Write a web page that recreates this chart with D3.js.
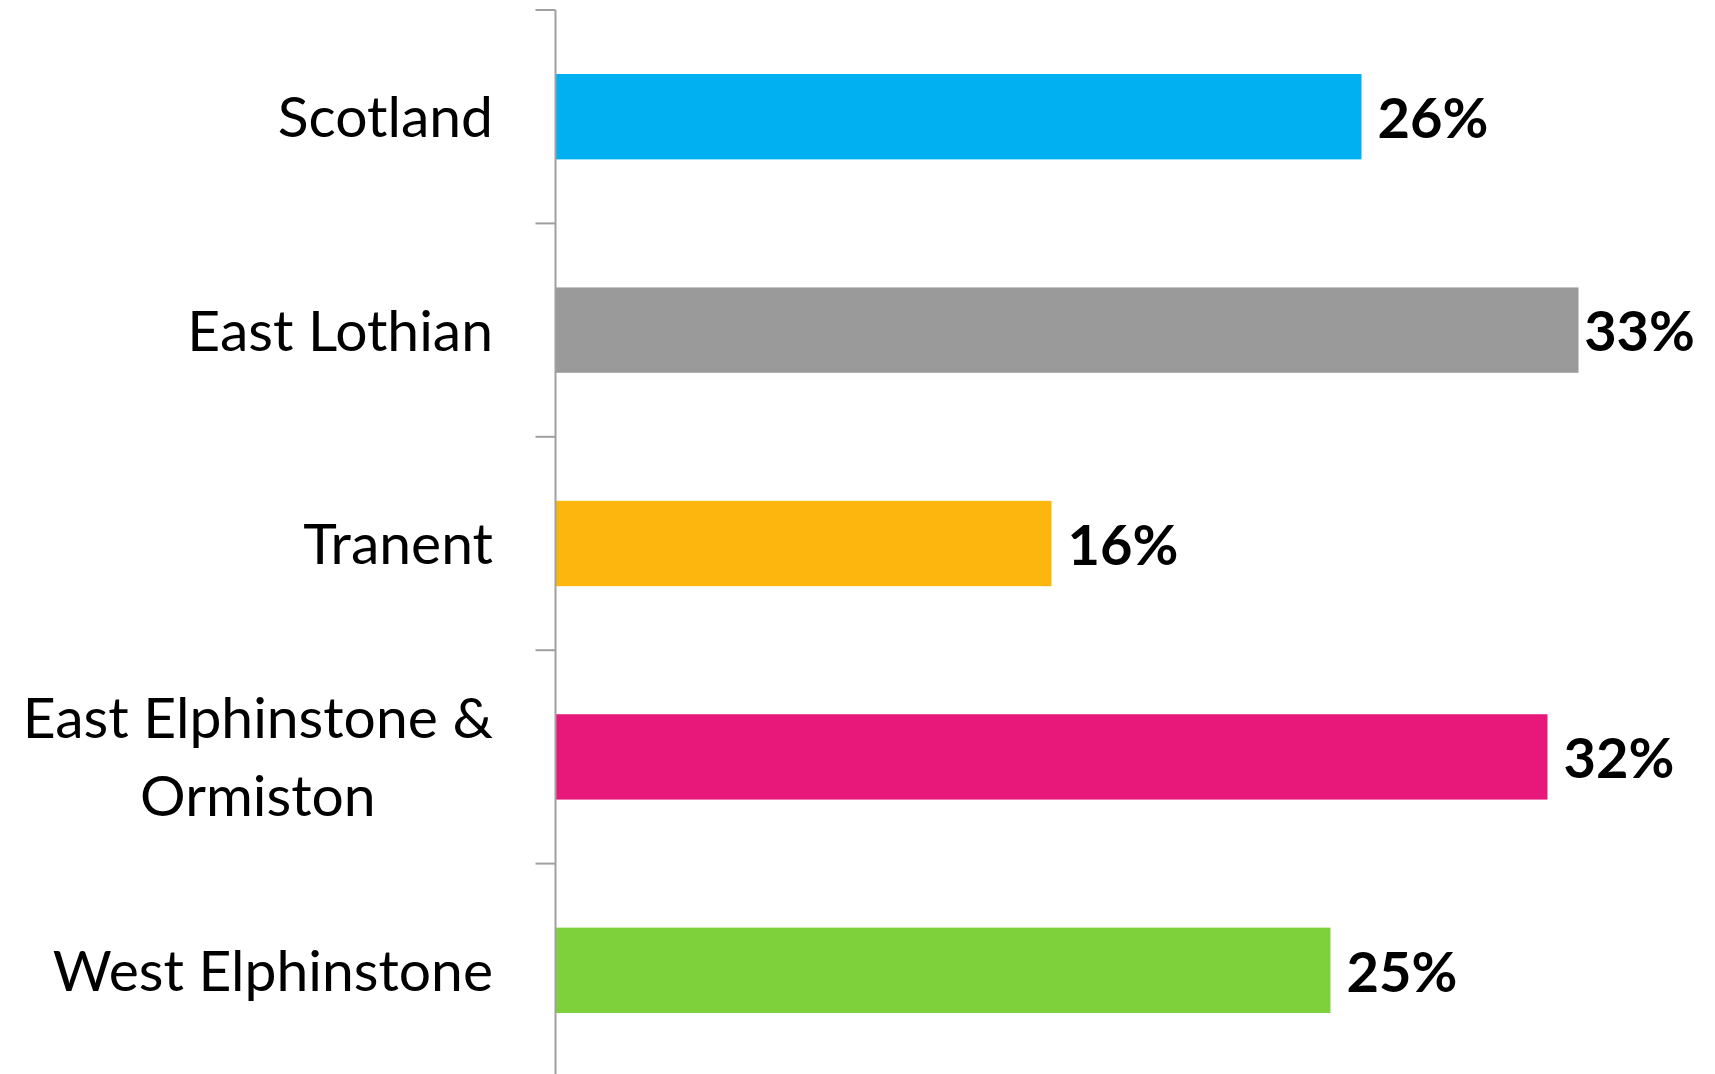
<!DOCTYPE html>
<html>
<head>
<meta charset="utf-8">
<script src="https://cdn.jsdelivr.net/npm/d3@7"></script>
<style>
  body { margin: 0; background: #fff; }
  svg { display: block; }
</style>
</head>
<body>
<svg width="1715" height="1074"></svg>
<script>
var categories = [["Scotland"], ["East Lothian"], ["Tranent"], ["East Elphinstone &", "Ormiston"], ["West Elphinstone"]];
var values = [0.26, 0.33, 0.16, 0.32, 0.25];
var colors = ["#00b0f0", "#9a9a9a", "#fdb60e", "#e8187a", "#7fd13b"];

var svg = d3.select("svg"),
    font = "Lato, 'Open Sans', sans-serif",
    axisX = 555.5;

var keys = categories.map(function(c) { return c.join(" "); });

var y = d3.scaleBand()
    .domain(keys)
    .range([10, 1077])
    .paddingInner(0.6)
    .paddingOuter(0.3);

var x = d3.scaleLinear()
    .domain([0, 0.35])
    .range([axisX, axisX + 1085]);

var halfGap = (y.step() - y.bandwidth()) / 2;

// bars
svg.selectAll(".bar")
    .data(values)
    .enter().append("rect")
      .attr("class", "bar")
      .attr("x", x(0))
      .attr("y", function(d, i) { return y(keys[i]); })
      .attr("width", function(d) { return x(d) - x(0); })
      .attr("height", y.bandwidth())
      .style("fill", function(d, i) { return colors[i]; });

// axis line + ticks at band boundaries
var bounds = keys.map(function(k) { return y(k) - halfGap; }).concat([y.range()[1]]);

svg.append("line")
    .attr("x1", axisX).attr("x2", axisX)
    .attr("y1", bounds[0]).attr("y2", bounds[bounds.length - 1])
    .style("stroke", "#a0a0a0")
    .style("stroke-width", 2);

svg.selectAll(".tick")
    .data(bounds)
    .enter().append("line")
      .attr("class", "tick")
      .attr("x1", axisX - 20).attr("x2", axisX)
      .attr("y1", function(d) { return d; })
      .attr("y2", function(d) { return d; })
      .style("stroke", "#a0a0a0")
      .style("stroke-width", 2);

// category labels
var lineH = 78;
categories.forEach(function(lines, i) {
  var cy = y(keys[i]) + y.bandwidth() / 2;
  var top = cy - (lines.length - 1) * lineH / 2;
  var g = svg.append("g");
  var texts = lines.map(function(t, j) {
    return g.append("text")
        .attr("y", top + j * lineH)
        .attr("dy", "0.36em")
        .style("font-family", font)
        .style("font-size", "57px")
        .style("fill", "#000")
        .text(t);
  });
  var widths = texts.map(function(t) { return t.node().getComputedTextLength(); });
  var w = d3.max(widths), right = 493;
  texts.forEach(function(t) {
    t.attr("x", right - w / 2).attr("text-anchor", "middle");
  });
});

// value labels
svg.selectAll(".val")
    .data(values)
    .enter().append("text")
      .attr("class", "val")
      .attr("y", function(d, i) { return y(keys[i]) + y.bandwidth() / 2; })
      .attr("dy", "0.38em")
      .style("font-family", font)
      .style("font-size", "56px")
      .style("font-weight", "bold")
      .style("fill", "#000")
      .text(function(d) { return d3.format(".0%")(d); })
      .attr("x", function(d) {
        var w = this.getComputedTextLength();
        return Math.min(x(d) + 16, 1695 - w);
      });
</script>
</body>
</html>
